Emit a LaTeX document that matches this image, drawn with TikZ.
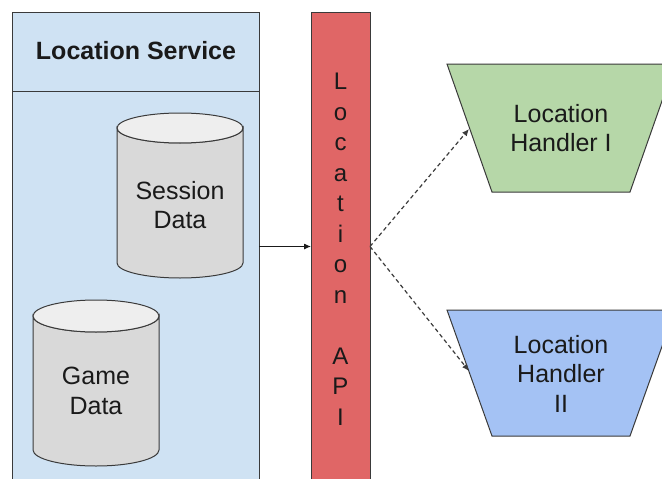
\documentclass[tikz,border=0pt]{standalone}
\usepackage{fontspec}
\setmainfont{Liberation Sans}
\usetikzlibrary{arrows.meta}

\definecolor{svcblue}{HTML}{CFE2F3}
\definecolor{apired}{HTML}{E06666}
\definecolor{hgreen}{HTML}{B6D7A8}
\definecolor{hblue}{HTML}{A4C2F4}
\definecolor{dbbody}{HTML}{D9D9D9}
\definecolor{dbtop}{HTML}{EEEEEE}
\definecolor{edge}{HTML}{3A3A3A}
\definecolor{ink}{HTML}{1A1A1A}

% data store drawn as a cylinder: #1 centre x, #2 top-ellipse y, #3 bottom-ellipse y, #4 x radius, #5 y radius
\newcommand\datastore[5]{%
  \filldraw[fill=dbbody, draw=edge, line width=1pt]
    ({#1-#4},#2) -- ({#1-#4},#3)
    arc[start angle=180, end angle=0, x radius=#4, y radius=#5]
    -- ({#1+#4},#2)
    arc[start angle=0, end angle=180, x radius=#4, y radius=#5] -- cycle;
  \filldraw[fill=dbtop, draw=edge, line width=1pt]
    (#1,#2) ellipse[x radius=#4, y radius=#5];
}

\begin{document}
\begin{tikzpicture}[x=1pt, y=-1pt,
  box/.style={draw=edge, line width=1pt, inner sep=0pt, anchor=north west},
  lbl/.style={text=ink, align=center, inner sep=0pt, font=\fontsize{25}{29.5}\selectfont},
  solidarrow/.style={draw=ink, line width=1pt, -{Latex[length=7pt, width=6pt]}},
  dashedarrow/.style={draw=ink!85, line width=1.2pt, dash pattern=on 4pt off 3pt,
                      -{Latex[length=7pt, width=6pt]}},
  handler/.style={draw=edge, line width=1pt}]

\useasboundingbox (0,0) rectangle (662,479);
\clip (0,0) rectangle (662,479);
\fill[white] (0,0) rectangle (662,479);

% Location Service container with its title band
\node[box, fill=svcblue, minimum width=247pt, minimum height=500pt] (svc) at (12,12) {};
\draw[draw=edge, line width=1pt] (12,91) -- (259,91);
\node[lbl, font=\bfseries\fontsize{25}{29.5}\selectfont] (svctitle) at (136,51) {Location Service};

% data stores
\datastore{180}{128}{263}{63}{15}
\node[lbl] (session) at (180,205) {Session\\Data};
\datastore{96}{316}{450}{63}{16}
\node[lbl] (game) at (96,391) {Game\\Data};

% Location API column
\node[box, fill=apired, minimum width=59pt, minimum height=500pt] (api) at (311,12) {};
\node[lbl, font=\fontsize{24}{30.5}\selectfont] (apitext) at (340.5,249)
  {L\\o\\c\\a\\t\\i\\o\\n\\\mbox{}\\A\\P\\I};

% handlers
\filldraw[handler, fill=hgreen] (447,64) -- (675,64) -- (630,192) -- (492,192) -- cycle;
\node[lbl] (h1) at (561,128) {Location\\Handler I};
\filldraw[handler, fill=hblue] (447,310) -- (675,310) -- (630,436) -- (492,436) -- cycle;
\node[lbl] (h2) at (561,373.5) {Location\\Handler\\II};

% connectors
\coordinate (svcout) at (259,246.5);
\coordinate (apiout) at (370,246.5);
\coordinate (h1in) at (469,129);
\coordinate (h2in) at (469,371);
\draw[solidarrow] (svcout) -- (svcout -| api.west);
\draw[dashedarrow] (apiout) -- (h1in);
\draw[dashedarrow] (apiout) -- (h2in);

\end{tikzpicture}
\end{document}
